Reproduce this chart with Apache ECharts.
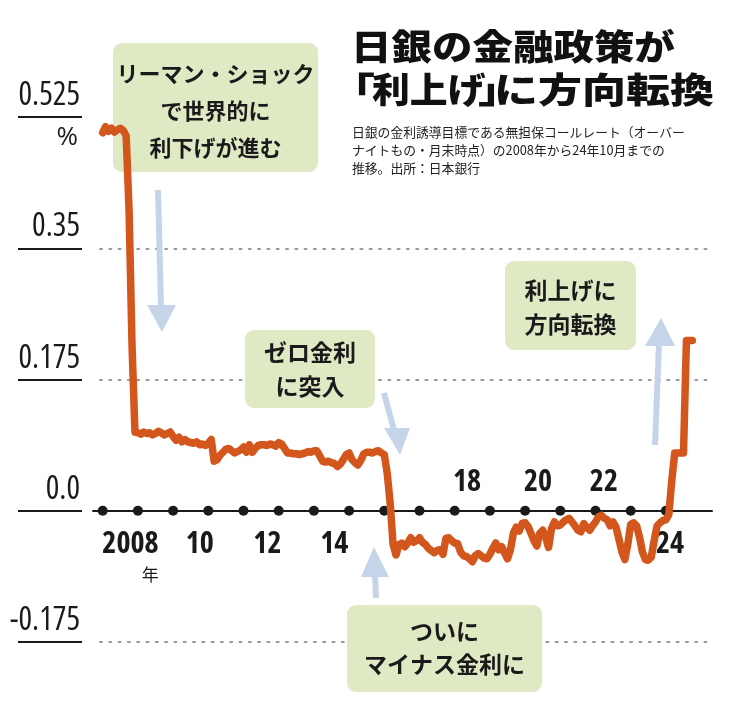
<!DOCTYPE html>
<html><head><meta charset="utf-8">
<style>html,body{margin:0;padding:0;background:#fff}#c{width:738px;height:702px}</style>
<script src="https://cdn.jsdelivr.net/npm/echarts@6/dist/echarts.min.js"></script>
</head><body><div id="c"></div>
<script>
// Uncollateralized overnight call rate, month end, Jan 2008 - Oct 2024 (%)
const rates2008 = [0.504, 0.512, 0.506, 0.510, 0.505, 0.508, 0.510, 0.507, 0.500, 0.400, 0.220, 0.105];
const rates2009 = [0.104, 0.102, 0.105, 0.103, 0.104, 0.101, 0.103, 0.106, 0.104, 0.101, 0.103, 0.105];
const rates2010 = [0.099, 0.094, 0.098, 0.092, 0.095, 0.092, 0.091, 0.090, 0.092, 0.088, 0.089, 0.087];
const rates2011 = [0.090, 0.095, 0.066, 0.068, 0.074, 0.078, 0.082, 0.083, 0.080, 0.077, 0.079, 0.081];
const rates2012 = [0.085, 0.078, 0.088, 0.078, 0.083, 0.087, 0.088, 0.088, 0.087, 0.089, 0.088, 0.086];
const rates2013 = [0.091, 0.089, 0.083, 0.077, 0.077, 0.076, 0.076, 0.075, 0.076, 0.077, 0.079, 0.078];
const rates2014 = [0.080, 0.080, 0.073, 0.066, 0.065, 0.066, 0.064, 0.063, 0.059, 0.062, 0.068, 0.075];
const rates2015 = [0.077, 0.068, 0.064, 0.061, 0.067, 0.076, 0.078, 0.078, 0.077, 0.079, 0.080, 0.077];
const rates2016 = [0.075, 0.050, 0.010, -0.045, -0.059, -0.045, -0.043, -0.048, -0.043, -0.036, -0.042, -0.040];
const rates2017 = [-0.036, -0.042, -0.045, -0.050, -0.053, -0.056, -0.053, -0.052, -0.058, -0.037, -0.036, -0.040];
const rates2018 = [-0.043, -0.044, -0.055, -0.060, -0.061, -0.064, -0.068, -0.060, -0.057, -0.060, -0.063, -0.064];
const rates2019 = [-0.058, -0.050, -0.043, -0.052, -0.048, -0.056, -0.064, -0.052, -0.030, -0.022, -0.027, -0.017];
const rates2020 = [-0.016, -0.021, -0.030, -0.040, -0.047, -0.030, -0.026, -0.035, -0.049, -0.024, -0.015, -0.020];
const rates2021 = [-0.019, -0.015, -0.012, -0.010, -0.015, -0.020, -0.026, -0.028, -0.017, -0.022, -0.026, -0.020];
const rates2022 = [-0.015, -0.008, -0.006, -0.010, -0.012, -0.020, -0.015, -0.022, -0.038, -0.055, -0.065, -0.045];
const rates2023 = [-0.018, -0.016, -0.020, -0.035, -0.055, -0.065, -0.066, -0.062, -0.040, -0.020, -0.016, -0.013];
const rates2024 = [-0.012, -0.005, 0.040, 0.077, 0.077, 0.077, 0.077, 0.227, 0.227, 0.227];

const startYear = 2008;
const yearDots = [2008, 2009, 2010, 2011, 2012, 2013, 2014, 2015, 2016, 2017, 2018, 2019, 2020, 2021, 2022, 2023, 2024];
const yTickValues = [-0.175, 0, 0.175, 0.35, 0.525];
const yTickLabels = ['-0.175', '0.0', '0.175', '0.35', '0.525'];
const yUnit = '%';
const xLabelsBelowPos = [2008.79, 2010.76, 2012.68, 2014.58, 2024.12];
const xLabelsBelowText = ['2008', '10', '12', '14', '24'];
const xLabelsAbovePos = [2018.35, 2020.37, 2022.24];
const xLabelsAboveText = ['18', '20', '22'];

const allRates = [].concat(rates2008, rates2009, rates2010, rates2011, rates2012, rates2013, rates2014,
  rates2015, rates2016, rates2017, rates2018, rates2019, rates2020, rates2021, rates2022, rates2023, rates2024);
const lineData = allRates.map((v, i) => [startYear + i / 12, v]);
const dotData = yearDots.map(y => [y, 0]);

const OS = '"Open Sans", "DejaVu Sans Condensed", sans-serif';
const JP = '"Noto Sans CJK JP", "Noto Sans CJK SC", sans-serif';
const ORANGE = '#d3561c';
const GREEN = '#dfe9c4';
const BLUE = '#c6d4e9';
const INK = '#1a1a1a';

function pick(pos, texts, v) {
  for (let i = 0; i < pos.length; i++) if (Math.abs(pos[i] - v) < 1e-6) return texts[i];
  return '';
}

const xMax = 2025.3097;
const xMinPlot = 2007.9233;   // plot area starts at x=100
const xMinAxis = 2007.7244;   // zero axis line starts at x=93

function box(x, y, w, h) {
  return { type: 'rect', shape: { x: x, y: y, width: w, height: h, r: 9 }, style: { fill: GREEN }, z: 1 };
}
function boxText(cx, cy, text, lh, size) {
  return { type: 'text', x: cx, y: cy, z: 2,
    style: { text: text, font: '700 ' + size + 'px ' + JP, fill: INK, lineHeight: lh,
      align: 'center', verticalAlign: 'middle', textAlign: 'center', textVerticalAlign: 'middle' } };
}
function arrow(pts, head) {
  return [
    { type: 'polyline', shape: { points: pts }, style: { stroke: BLUE, lineWidth: 6, fill: null }, z: 1 },
    { type: 'polygon', shape: { points: head }, style: { fill: BLUE }, z: 1 }
  ];
}
function titleText(x, y, text, size, sx, sy) {
  return { type: 'text', x: x, y: y, scaleX: sx, scaleY: sy, z: 2,
    style: { text: text, font: '900 ' + size + 'px ' + JP, fill: '#111',
      align: 'left', verticalAlign: 'middle', textAlign: 'left', textVerticalAlign: 'middle' } };
}
function subText(x, y, text) {
  return { type: 'text', x: x, y: y, z: 2,
    style: { text: text, font: '400 12.8px ' + JP, fill: '#222',
      align: 'left', verticalAlign: 'middle', textAlign: 'left', textVerticalAlign: 'middle' } };
}

const chart = echarts.init(document.getElementById('c'), null, { renderer: 'canvas' });
chart.setOption({
  backgroundColor: '#ffffff',
  animation: false,
  grid: [
    { left: 100, right: 26, top: 117, bottom: 60 },
    { left: 18, width: 64, top: 117, bottom: 60 },
    { left: 93, right: 26, top: 117, bottom: 191.25 }
  ],
  xAxis: [
    { gridIndex: 0, type: 'value', min: xMinPlot, max: xMax, show: false },
    { gridIndex: 1, type: 'value', min: 0, max: 1, show: false },
    { gridIndex: 2, type: 'value', min: xMinAxis, max: xMax, position: 'bottom',
      axisLine: { show: true, onZero: false, lineStyle: { color: INK, width: 2 } },
      axisTick: { show: false }, splitLine: { show: false },
      axisLabel: { customValues: xLabelsBelowPos, margin: 17,
        formatter: v => {
          const t = pick(xLabelsBelowPos, xLabelsBelowText, v);
          return t === '2008' ? '{b|2008}\n{s|年}' : '{b|' + t + '}';
        },
        rich: {
          b: { fontFamily: OS, fontWeight: 'condensed bold', fontSize: 30, lineHeight: 34, color: INK },
          s: { fontFamily: JP, fontSize: 17, lineHeight: 26, color: INK, align: 'right' }
        } } },
    { gridIndex: 2, type: 'value', min: xMinAxis, max: xMax, position: 'bottom',
      axisLine: { show: false, onZero: false },
      axisTick: { show: false }, splitLine: { show: false },
      axisLabel: { customValues: xLabelsAbovePos, inside: true, margin: 11,
        formatter: v => '{b|' + pick(xLabelsAbovePos, xLabelsAboveText, v) + '}',
        rich: { b: { fontFamily: OS, fontWeight: 'condensed bold', fontSize: 30, lineHeight: 34, color: INK } } } }
  ],
  yAxis: [
    { gridIndex: 0, type: 'value', min: -0.175, max: 0.525, interval: 0.175,
      axisLine: { show: false }, axisTick: { show: false }, axisLabel: { show: false },
      splitLine: { show: true, showMaxLine: false, lineStyle: { color: '#9a9a9a', width: 2, type: [2, 7.3], cap: 'round' } } },
    { gridIndex: 1, type: 'value', min: -0.175, max: 0.525, interval: 0.175, position: 'right',
      axisLine: { show: false }, axisTick: { show: false },
      splitLine: { show: true, lineStyle: { color: INK, width: 2 } },
      axisLabel: { inside: true, margin: 2, verticalAlign: 'middle', align: 'right',
        formatter: v => {
          const t = pick(yTickValues, yTickLabels, v);
          return v > 0.5 ? '{n|' + t + '}\n{p|' + yUnit + '}' : '{n|' + t + '}\n{p| }';
        },
        rich: {
          n: { fontFamily: OS, fontWeight: 'condensed', fontSize: 32, lineHeight: 42, color: INK, align: 'right' },
          p: { fontFamily: OS, fontWeight: 'normal', fontSize: 26, lineHeight: 42, color: INK, align: 'right', padding: [0, 2, 0, 0] }
        } } },
    { gridIndex: 2, type: 'value', min: 0, max: 1, show: false }
  ],
  series: [
    { type: 'scatter', xAxisIndex: 0, yAxisIndex: 0, data: dotData, symbol: 'circle', symbolSize: 10,
      itemStyle: { color: INK, opacity: 1 }, z: 2, silent: true },
    { type: 'line', xAxisIndex: 0, yAxisIndex: 0, data: lineData, showSymbol: false, symbol: 'none', z: 3,
      lineStyle: { color: ORANGE, width: 7.5, cap: 'round', join: 'round' } }
  ],
  graphic: { elements: [].concat(
    [titleText(351, 47, '日銀の金融政策が', 44, 0.92, 0.8),
     titleText(331, 90, '「', 44, 1, 0.8),
     titleText(372, 90, '利上げ', 44, 0.86, 0.8),
     titleText(478, 90, '」', 44, 1, 0.8),
     titleText(494, 90, 'に方向転換', 44, 1, 0.8),
     subText(352, 132, '日銀の金利誘導目標である無担保コールレート（オーバー'),
     subText(352, 150, 'ナイトもの・月末時点）の2008年から24年10月までの'),
     subText(352, 168, '推移。出所：日本銀行')],
    [box(113, 43, 205, 129), boxText(215.5, 111, 'リーマン・ショック\nで世界的に\n利下げが進む', 37, 22)],
    [box(245, 330, 130, 78), boxText(310, 369, 'ゼロ金利\nに突入', 34, 23)],
    [box(505, 261, 131, 89), boxText(570.5, 307, '利上げに\n方向転換', 34, 23)],
    [box(347, 605, 195, 87), boxText(444.5, 648, 'ついに\nマイナス金利に', 33, 23)],
    arrow([[158, 190], [161, 306]], [[147, 305], [176, 305], [162, 332]]),
    arrow([[384, 393], [394, 430]], [[384, 428], [410, 428], [400, 455]]),
    arrow([[376, 598], [375, 574]], [[361, 577], [389, 577], [374, 547]]),
    arrow([[655, 445], [659, 344]], [[645, 346], [675, 346], [661, 318]])
  ) }
});
</script>
</body></html>
